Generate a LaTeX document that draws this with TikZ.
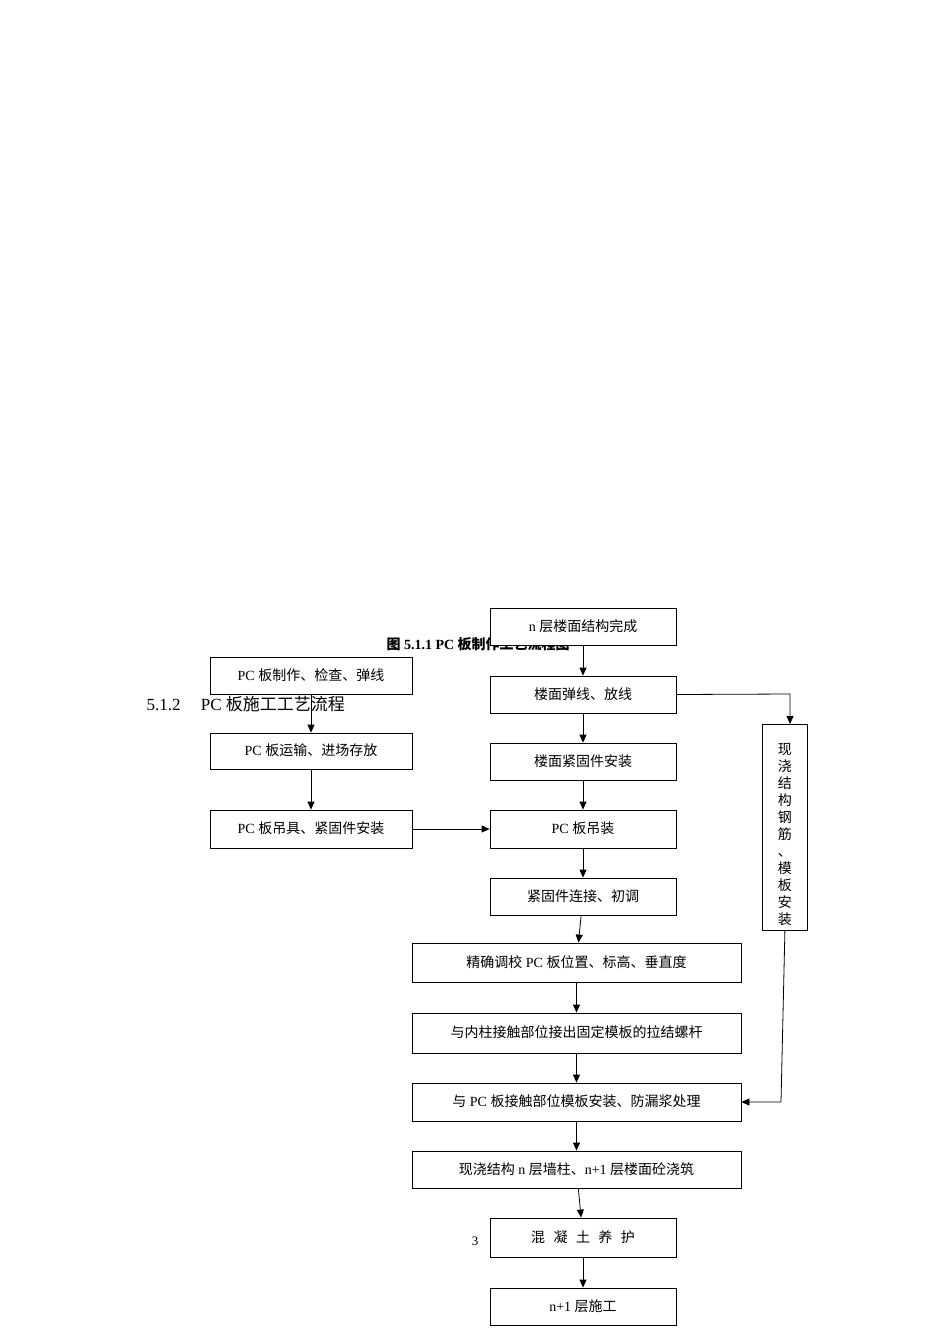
\documentclass[tikz,border=0pt]{standalone}
\usepackage{fontspec}
\setmainfont{Liberation Serif}
\newfontfamily\cjk{Noto Sans CJK SC}
\XeTeXinterchartokenstate=1
\newXeTeXintercharclass\cjkcls
\count255="3000 \loop \XeTeXcharclass\count255=\cjkcls \advance\count255 1 \ifnum\count255<"3040 \repeat
\count255="4E00 \loop \XeTeXcharclass\count255=\cjkcls \advance\count255 1 \ifnum\count255<"A000 \repeat
\count255="FF00 \loop \XeTeXcharclass\count255=\cjkcls \advance\count255 1 \ifnum\count255<"FFF0 \repeat
\XeTeXinterchartoks 0 \cjkcls={\begingroup\cjk}
\XeTeXinterchartoks 4095 \cjkcls={\begingroup\cjk}
\XeTeXinterchartoks \cjkcls 0={\endgroup}
\XeTeXinterchartoks \cjkcls 4095={\endgroup}
\usetikzlibrary{arrows.meta}
\begin{document}
\begin{tikzpicture}[x=1pt,y=-1pt,
  box/.style={draw,fill=white,line width=0.8pt,inner sep=0pt,font=\fontsize{14}{16}\selectfont},
  arr/.style={-{Triangle[length=8pt,width=7pt]},line width=0.8pt}]
\useasboundingbox (0,0) rectangle (950,1344);
\node[anchor=west,font=\bfseries\fontsize{14}{16}\selectfont] (cap) at (383,644) {图 5.1.1 PC 板制作工艺流程图};
\node[anchor=west,font=\fontsize{17}{19}\selectfont] (head) at (143,704) {5.1.2\hspace{1.2em}PC 板施工工艺流程};
\node[font=\fontsize{13}{15}\selectfont] (pg) at (475,1241) {3};
% central boxes
\newcommand\bx[6]{\node[box,minimum width=#3-#2,minimum height=#5-#4] (#1) at ({(#2+#3)/2},{(#4+#5)/2}) {\raisebox{2.5pt}{#6}};}
\bx{n1}{490}{676}{608}{645}{n 层楼面结构完成}
\bx{n2}{490}{676}{676}{713}{楼面弹线、放线}
\bx{n3}{490}{676}{743}{780}{楼面紧固件安装}
\bx{n4}{490}{676}{810}{848}{PC 板吊装}
\bx{n5}{490}{676}{878}{915}{紧固件连接、初调}
\bx{n6}{412}{741}{943}{982}{精确调校 PC 板位置、标高、垂直度}
\bx{n7}{412}{741}{1013}{1053}{与内柱接触部位接出固定模板的拉结螺杆}
\bx{n8}{412}{741}{1083}{1121}{与 PC 板接触部位模板安装、防漏浆处理}
\bx{n9}{412}{741}{1151}{1188}{现浇结构 n 层墙柱、n+1 层楼面砼浇筑}
\bx{n10}{490}{676}{1218}{1257}{混\hspace{0.6em}凝\hspace{0.6em}土\hspace{0.6em}养\hspace{0.6em}护}
\bx{n11}{490}{676}{1288}{1325}{n+1 层施工}
\bx{l1}{210}{412}{657}{694}{PC 板制作、检查、弹线}
\bx{l2}{210}{412}{733}{769}{PC 板运输、进场存放}
\bx{l3}{210}{412}{810}{848}{PC 板吊具、紧固件安装}
\node[box,minimum width=45,minimum height=206,anchor=north west,align=center,text width=16pt,
  font=\fontsize{14}{17}\selectfont] (r) at (762,724) {\vspace{8pt}\\现\\浇\\结\\构\\钢\\筋\\、\\模\\板\\安\\装\\\vspace{1pt}};
\foreach \a/\b in {n1/n2,n2/n3,n3/n4,n4/n5,n5/n6,n6/n7,n7/n8,n8/n9,n9/n10,n10/n11,l1/l2,l2/l3}
  \draw[arr] (\a) -- (\b);
\draw[arr] (l3) -- (n4);
\coordinate (c1) at (790,694);
\coordinate (c2) at (781,1102);
\draw[arr] (n2.east) -- (c1) -- (r.north -| c1);
\draw[arr] (r.south) -- (c2) -- (n8.east |- c2);
\end{tikzpicture}
\end{document}
